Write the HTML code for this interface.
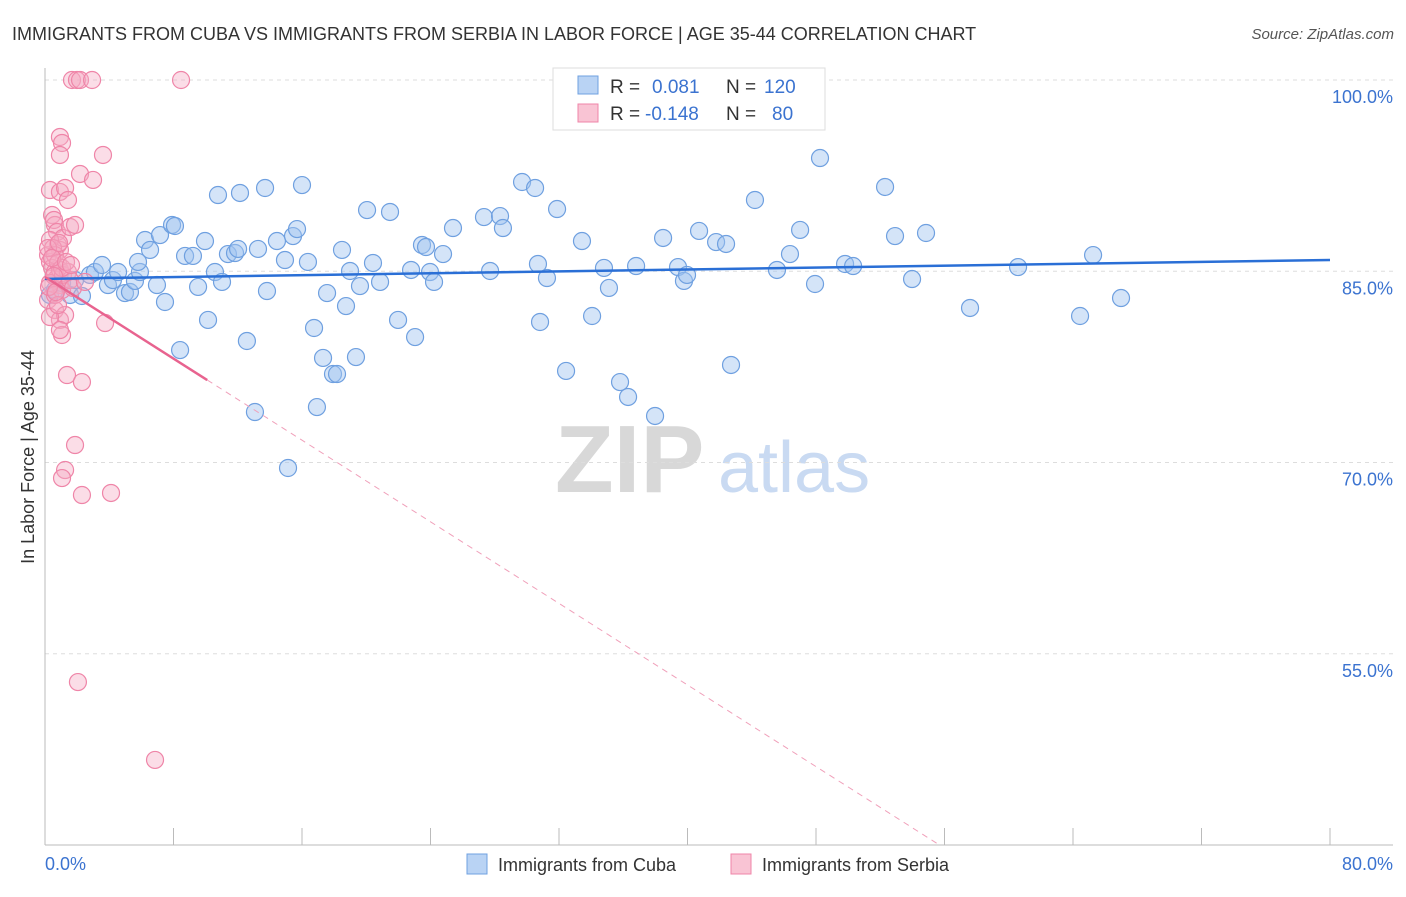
<!DOCTYPE html>
<html><head><meta charset="utf-8">
<style>
body{margin:0;background:#fff;font-family:"Liberation Sans",sans-serif;}
svg text{font-family:"Liberation Sans",sans-serif;}
</style></head>
<body>
<svg id="chart" width="1406" height="892" viewBox="0 0 1406 892" xmlns="http://www.w3.org/2000/svg">
<text x="12" y="40" font-size="18" fill="#333">IMMIGRANTS FROM CUBA VS IMMIGRANTS FROM SERBIA IN LABOR FORCE | AGE 35-44 CORRELATION CHART</text>
<text x="1394" y="39" font-size="15" fill="#555" text-anchor="end" font-style="italic">Source: ZipAtlas.com</text>
<g>
<text x="555" y="492" font-size="96" fill="#d8d8d8" font-family="Liberation Serif" font-weight="bold">ZIP</text>
<text x="718" y="492" font-size="72" fill="#c9daf2">atlas</text>
</g>
<g id="grid"></g>
<g id="axes"></g>
<g id="blue"></g>
<g id="pink"></g>
<g id="trends"></g>
<text transform="translate(34,457) rotate(-90)" font-size="18" fill="#333" text-anchor="middle">In Labor Force | Age 35-44</text>
<g>
<rect x="553" y="68" width="272" height="62" fill="#fff" stroke="#ddd"/>
<rect x="578" y="76" width="20" height="18" fill="#b9d3f4" stroke="#6fa0e0"/>
<rect x="578" y="104" width="20" height="18" fill="#f9c4d4" stroke="#ef85a8"/>
<text x="610" y="93" font-size="19" fill="#333">R =</text>
<text x="652" y="93" font-size="19" fill="#3b73d0">0.081</text>
<text x="726" y="93" font-size="19" fill="#333">N =</text>
<text x="764" y="93" font-size="19" fill="#3b73d0">120</text>
<text x="610" y="120" font-size="19" fill="#333">R =</text>
<text x="645" y="120" font-size="19" fill="#3b73d0">-0.148</text>
<text x="726" y="120" font-size="19" fill="#333">N =</text>
<text x="772" y="120" font-size="19" fill="#3b73d0">80</text>
</g>
<g>
<rect x="467" y="854" width="20" height="20" fill="#b9d3f4" stroke="#6fa0e0"/>
<text x="498" y="871" font-size="18" fill="#333">Immigrants from Cuba</text>
<rect x="731" y="854" width="20" height="20" fill="#f9c4d4" stroke="#ef85a8"/>
<text x="762" y="871" font-size="18" fill="#333">Immigrants from Serbia</text>
</g>
</svg>
<script>
const blueX=[.31,.62,1.06,1.56,1.87,2.30,2.80,3.11,3.55,3.92,4.23,4.55,4.98,5.29,5.60,5.91,5.79,6.23,6.54,6.97,7.16,7.47,7.91,8.09,8.41,8.72,9.21,9.53,9.96,10.15,10.58,10.77,11.02,11.39,11.83,12.02,12.14,12.57,13.07,13.26,13.70,13.82,14.44,14.94,15.13,15.44,15.69,16.00,16.37,16.75,16.93,17.31,17.56,17.93,18.18,18.49,18.74,18.99,19.36,19.61,20.05,20.42,20.86,21.48,21.98,22.79,23.04,23.47,23.72,23.97,24.22,24.78,25.40,27.33,27.71,28.33,28.51,29.70,30.51,30.69,30.82,31.25,31.88,32.44,33.43,34.06,34.80,35.11,35.80,36.30,36.80,37.98,38.48,39.41,39.78,39.97,40.72,41.78,42.40,42.71,44.20,45.57,46.38,47.01,47.94,48.25,49.81,50.31,52.30,52.92,53.98,54.85,57.59,60.58,64.44,65.25,66.99];
const blueY=[83.14,83.53,84.08,83.14,84.31,83.06,84.71,84.94,85.49,83.92,84.31,84.94,83.29,83.37,84.24,84.94,85.73,87.45,86.67,83.92,87.84,82.59,88.63,88.55,78.82,86.20,86.20,83.77,87.37,81.18,84.94,90.98,84.16,86.35,86.43,86.75,91.14,79.53,73.96,86.75,91.53,83.45,87.37,85.88,69.57,87.76,88.31,91.76,85.73,80.55,74.35,78.20,83.29,76.94,76.94,86.67,82.27,85.02,78.27,83.84,89.80,85.65,84.16,89.65,81.18,85.10,79.84,87.06,86.90,84.94,84.16,86.35,88.39,89.25,85.02,89.33,88.39,92.00,91.53,85.57,81.02,84.47,89.88,77.18,87.37,81.49,85.26,83.69,76.31,75.14,85.41,73.65,87.61,85.33,84.24,84.71,88.16,87.29,87.14,77.65,90.59,85.10,86.35,88.24,84.00,93.88,85.57,85.41,91.61,87.76,84.39,88.00,82.12,85.33,81.49,86.27,82.90];
const pinkX=[.31,.44,.62,.81,.93,.19,.31,.44,.62,.75,.93,1.06,.31,.19,.62,.93,1.06,1.25,1.37,2.30,1.87,1.25,1.06,2.30,4.11,2.05,6.85,1.68,1.99,2.18,2.93,8.47,.93,1.06,.93,3.61,2.18,2.99,.93,1.25,1.43,.56,.75,1.12,1.56,1.87,.31,.50,.62,.81,.93,1.12,1.43,1.56,1.74,2.49,3.74,.31,.93,.62,.81,1.06,.19,.44,.56,.25,.68,1.31,1.62,.87];
const pinkY=[91.37,89.41,88.63,87.06,86.67,86.27,85.73,85.26,84.94,84.47,83.92,83.53,84.08,82.75,81.96,81.18,80.00,81.57,76.86,76.31,71.37,69.41,68.78,67.45,67.61,52.78,46.67,100,100,100,100,100,95.53,95.06,94.12,94.12,92.63,92.16,91.22,91.53,90.59,89.02,88.08,87.61,88.47,88.63,87.45,86.82,86.27,85.65,85.10,84.71,84.94,84.31,83.69,84.16,80.94,81.41,80.39,83.14,82.35,85.26,86.82,86.04,84.63,83.77,83.37,85.73,85.49,87.22];
const yTicks=[100,85,70,55];
const yTickLabels=["100.0%","85.0%","70.0%","55.0%"];
const xTicks=[0,8,16,24,32,40,48,56,64,72,80];
const blueTrend=[84.4,85.88];
const pinkTrend=[84.55,-0.80];

const NS="http://www.w3.org/2000/svg";
const X=v=>45+v*1285/80;
const Y=v=>80+(100-v)*12.75;
function mk(tag,attrs,parent){const e=document.createElementNS(NS,tag);for(const k in attrs)e.setAttribute(k,attrs[k]);parent.appendChild(e);return e;}
const grid=document.getElementById('grid'),axes=document.getElementById('axes');
yTicks.forEach((t,i)=>{
  const l=mk('line',{x1:45,x2:1393,y1:Y(t),y2:Y(t),stroke:'#ddd','stroke-dasharray':'4,4'},grid);
  
  
  const tx=mk('text',{x:1393,y:Y(t)+23,'font-size':18,fill:'#3b73d0','text-anchor':'end'},axes);
  tx.textContent=yTickLabels[i];
  
  
});
mk('line',{x1:45,x2:45,y1:68,y2:845,stroke:'#bbb'},axes);
mk('line',{x1:45,x2:1393,y1:845,y2:845,stroke:'#bbb'},axes);
xTicks.forEach(t=>{const l=mk('line',{x1:X(t),x2:X(t),y1:828,y2:845,stroke:'#bbb'},axes);
  
  });
const x0=mk('text',{x:45,y:870,'font-size':18,fill:'#3b73d0'},axes);x0.textContent='0.0%';


const x1=mk('text',{x:1393,y:870,'font-size':18,fill:'#3b73d0','text-anchor':'end'},axes);x1.textContent='80.0%';


const bg=document.getElementById('blue'),pg=document.getElementById('pink');
blueX.forEach((v,i)=>{const c=mk('circle',{cx:X(v),cy:Y(blueY[i]),r:8.5,fill:'rgba(160,196,240,0.45)',stroke:'#6fa0e0','stroke-width':1.2},bg);
  
  });
pinkX.forEach((v,i)=>{const c=mk('circle',{cx:X(v),cy:Y(pinkY[i]),r:8.5,fill:'rgba(245,170,196,0.4)',stroke:'#ef85a8','stroke-width':1.2},pg);
  
  });
const tg=document.getElementById('trends');
const bt=mk('line',{x1:X(0),y1:Y(blueTrend[0]),x2:X(80),y2:Y(blueTrend[1]),stroke:'#2a6fd6','stroke-width':2.5},tg);


const pf=x=>pinkTrend[0]+pinkTrend[1]*x;
const ps=mk('line',{x1:X(0),y1:Y(pf(0)),x2:X(10.1),y2:Y(pf(10.1)),stroke:'#e8638f','stroke-width':2.5},tg);


const xe=(40-pinkTrend[0])/pinkTrend[1];
const pd=mk('line',{x1:X(10.1),y1:Y(pf(10.1)),x2:X(xe),y2:Y(40),stroke:'#f0a0ba','stroke-width':1,'stroke-dasharray':'6,5'},tg);


</script>
</body></html>
